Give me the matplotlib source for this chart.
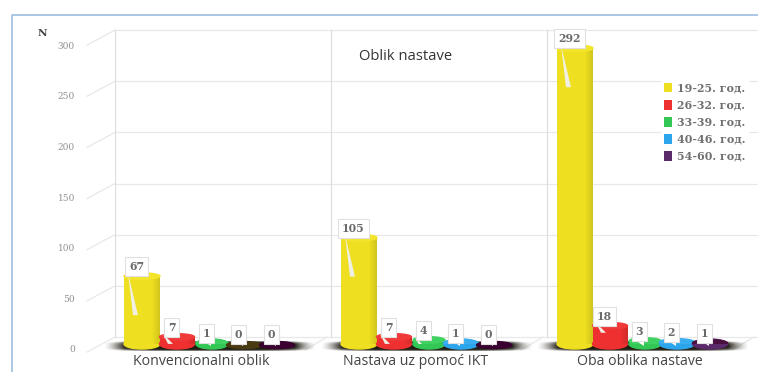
import numpy as np
import matplotlib
matplotlib.use("Agg")
import matplotlib.pyplot as plt
from matplotlib.lines import Line2D
from matplotlib.patches import Ellipse, Polygon
from matplotlib.transforms import ScaledTranslation

# Data
categories = ["Konvencionalni oblik", "Nastava uz pomoć IKT", "Oba oblika nastave"]
age_groups = ["19-25. год.", "26-32. год.", "33-39. год.", "40-46. год.", "54-60. год."]
age_19_25 = [67, 105, 292]
age_26_32 = [7, 7, 18]
age_33_39 = [1, 4, 3]
age_40_46 = [0, 1, 2]
age_54_60 = [0, 0, 1]
y_ticks = [0, 50, 100, 150, 200, 250, 300]
title = "Oblik nastave"
y_name = "N"

series = [age_19_25, age_26_32, age_33_39, age_40_46, age_54_60]

# Styling and layout (x axis runs in pixels of the canvas)
W, H = 758, 372
DPI = 100
PX_PER_UNIT = 1.013
BASE_PX = 344
colors = ["#eedf20", "#ee3030", "#33c855", "#2da5ec", "#5a2a6a"]
cap_colors = ["#f3e42c", "#f03a3a", "#3fd262", "#38aef0", "#4a1040"]
zero_colors = ["#eedf20", "#ee3030", "#33c855", "#4a3a10", "#3a0030"]
group_x = [142, 359, 575]
bar_offset = [0, 35, 70, 102, 135]
bar_width = [36, 35, 32, 35, 35]
label_x = [201, 416, 640]
walls = [115, 331, 547]
GRID = "#e8e8e8"
TEXT = "#6a6a6a"


def dy(px):
    return px / PX_PER_UNIT


def wall_y(v):
    # back wall is slightly steeper than the plane of the cylinders
    return dy(BASE_PX - (337 - 1.023 * v))


fig = plt.figure(figsize=(W / DPI, H / DPI), dpi=DPI, facecolor="white")
ax = fig.add_axes([115 / W, 1 - BASE_PX / H, (W - 115) / W, BASE_PX / H])
ax.set_facecolor("white")
for s in ax.spines.values():
    s.set_visible(False)

# Outer frame: top and left edges only
fig.add_artist(Line2D([12 / W, 12 / W, 1], [0, 1 - 15 / H, 1 - 15 / H],
                      color="#9dbde0", lw=1.2))

# Back wall, floor edge and tick connectors
for v in y_ticks:
    ax.plot([115, W], [wall_y(v)] * 2, color=GRID, lw=0.9, zorder=1, clip_on=False)
    ax.plot([87, 115], [wall_y(v) - dy(15), wall_y(v)], color=GRID, lw=0.9, zorder=1, clip_on=False)
for x in walls:
    ax.plot([x, x], [wall_y(0), wall_y(300)], color="#dedede", lw=0.9, zorder=1)
for x in walls[1:] + [W]:
    ax.plot([x - 26, x - 4], [dy(-6), wall_y(0)], color=GRID, lw=0.9, zorder=1, clip_on=False)

# Soft dark shadow under each group
gx, gy = np.meshgrid(np.linspace(-1, 1, 240), np.linspace(-1, 1, 40))
shadow = np.zeros(gx.shape + (4,))
shadow[..., :3] = (0.13, 0.12, 0.08)
shadow[..., 3] = np.clip(1.4 - gx**4 - np.abs(gy)**3, 0, 1) * np.clip(1.3 * (1 - np.abs(gx)) / 0.25, 0, 1)
for x in group_x:
    ax.imshow(shadow, extent=[x - 38, x + 174, dy(-7), dy(3)], aspect="auto",
              zorder=2, clip_on=False)

# Horizontal shading laid over each cylinder body
shade = np.zeros((1, 60, 4))
shade[0, :, 3] = np.clip((np.linspace(0, 1, 60) - 0.78) / 0.22, 0, 1) * 0.12

for i, (values, name) in enumerate(zip(series, age_groups)):
    xs = [g + bar_offset[i] for g in group_x]
    z = 5 + i
    ax.bar(xs, values, width=bar_width[i], color=colors[i], label=name, zorder=z)
    for x, v in zip(xs, values):
        w = bar_width[i]
        if v == 0:
            ax.add_patch(Ellipse((x, dy(-1)), w, dy(7), color=zero_colors[i], zorder=z, clip_on=False))
        else:
            ax.add_patch(Ellipse((x, 0), w, dy(10), color=colors[i], zorder=z, clip_on=False))
            ax.imshow(shade, extent=[x - w / 2, x + w / 2, 0, v], aspect="auto", zorder=z + 0.1)
            ax.add_patch(Ellipse((x, v), w, dy(6.5), color=cap_colors[i], zorder=z + 0.2))

        # Callout tail and value label
        top = v + dy(3)
        tail = 42 if v > 60 else (10 if v >= 4 else 0)
        if tail:
            ax.add_patch(Polygon([(x - 14, top), (x - 9, top - dy(tail)), (x - 4, top - dy(tail))],
                                 closed=True, color="#f0efe4", lw=0, zorder=z + 0.3))
        else:
            ax.add_patch(Polygon([(x - 7, dy(2)), (x - 1, dy(2)), (x - 1, dy(-2))],
                                 closed=True, color="white", lw=0, zorder=20, clip_on=False))
        ax.annotate(str(v), (x - 5.5, top), xytext=(0, 6.5 * 72 / DPI),
                    textcoords="offset points", ha="center", va="center",
                    fontsize=7.8, fontweight="bold", family="DejaVu Serif", color=TEXT, zorder=21,
                    bbox=dict(boxstyle="square,pad=0.36", fc="white", ec="#e0e0e0", lw=0.8))

ax.set_xlim(115, W)
ax.set_ylim(0, dy(BASE_PX))

# Axes text
ax.set_yticks(y_ticks)
ax.set_yticklabels([str(v) for v in y_ticks], family="DejaVu Serif", fontsize=6.5, color="#909090")
ax.tick_params(axis="y", length=0, pad=(115 - 75) * 72 / DPI)
down = ScaledTranslation(0, -5 / DPI, fig.dpi_scale_trans)
for t in ax.get_yticklabels():
    t.set_transform(t.get_transform() + down)

ax.set_xticks(label_x)
ax.set_xticklabels(categories, family="Open Sans", fontsize=10.2, color="#444444")
ax.tick_params(axis="x", length=0, pad=10 * 72 / DPI)

ax.set_title(title, family="Open Sans", fontsize=10.6, color="#333333", pad=0,
             x=(406 - 115) / (W - 115), y=(BASE_PX - 60) / BASE_PX)
fig.text(42 / W, 1 - 33 / H, y_name, family="DejaVu Serif", fontweight="bold",
         fontsize=7.5, color="#444444", ha="center", va="center")

# Legend
leg = ax.legend(loc="upper left", bbox_to_anchor=(661 / W, 1 - 79 / H),
                bbox_transform=fig.transFigure, frameon=True, framealpha=1,
                edgecolor="none", facecolor="white", fancybox=False,
                prop=dict(family="DejaVu Serif", weight="bold", size=7.9),
                labelcolor="#707070", handlelength=0.7, handleheight=1.0,
                handletextpad=0.5, labelspacing=0.56, borderpad=0.3, borderaxespad=0)
leg.set_zorder(15)

fig.savefig("out.png", dpi=DPI)
